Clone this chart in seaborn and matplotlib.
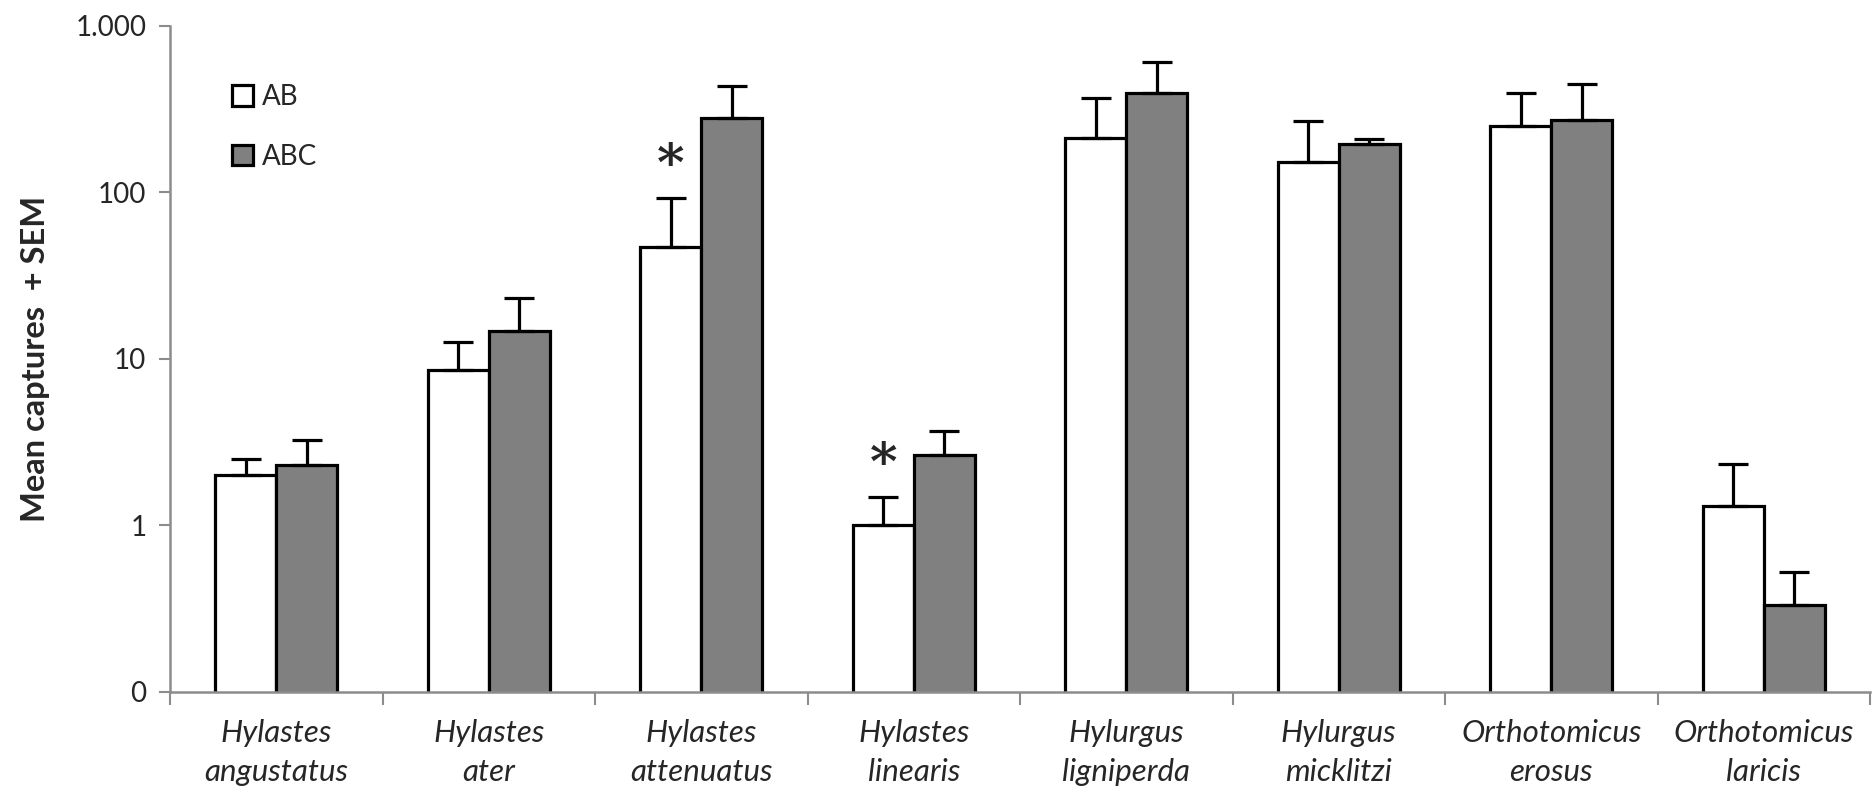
import seaborn as sns
import pandas as pd
import numpy as np
import matplotlib.pyplot as plt
from matplotlib.ticker import FixedLocator, FixedFormatter

species = ["Hylastes\nangustatus", "Hylastes\nater", "Hylastes\nattenuatus", "Hylastes\nlinearis",
           "Hylurgus\nligniperda", "Hylurgus\nmicklitzi", "Orthotomicus\nerosus", "Orthotomicus\nlaricis"]
ab_mean = [2.0, 8.6, 47, 1.0, 213, 153, 250, 1.31]
ab_sem = [0.5, 4.0, 45, 0.48, 158, 115, 147, 1.02]
abc_mean = [2.29, 14.7, 278, 2.65, 397, 196, 273, 0.33]
abc_sem = [0.97, 8.6, 159, 1.01, 212, 14, 176, 0.19]
signif = [False, False, True, True, False, False, False, False]  # AB vs ABC

df = pd.DataFrame({
    "species": species * 2,
    "mean": ab_mean + abc_mean,
    "trap": ["AB"] * len(species) + ["ABC"] * len(species),
})

sns.set_style("white")
plt.rcParams["font.family"] = ["Lato", "DejaVu Sans"]

fig = plt.figure(figsize=(18.72, 7.97), dpi=100)
ax = fig.add_axes([170 / 1872, 1 - 691.5 / 797, 1700 / 1872, 665.5 / 797])
ax.set_yscale("log")

sns.barplot(data=df, x="species", y="mean", hue="trap", palette=["white", "#808080"],
            edgecolor="black", linewidth=2.3, width=0.575, errorbar=None, ax=ax)

# error bars (upper only) drawn on the seaborn bars
grey = "#8c8c8c"
bars = ax.patches[:2 * len(species)]
sems = ab_sem + abc_sem
means = ab_mean + abc_mean
for b, m, s in zip(bars, means, sems):
    xc = b.get_x() + b.get_width() / 2
    ax.errorbar(xc, m, yerr=[[0], [s]], fmt="none", ecolor="black", elinewidth=2.3,
                capsize=11, capthick=2.3, zorder=1)

for i, sig in enumerate(signif):
    if sig:
        b = bars[i]
        xc = b.get_x() + b.get_width() / 2
        ax.text(xc, (ab_mean[i] + ab_sem[i]) * 1.55, "*", ha="center", va="center",
                fontsize=38, fontfamily="DejaVu Serif", fontweight="bold")

ax.set_ylim(0.1, 1000)
ax.yaxis.set_major_locator(FixedLocator([0.1, 1, 10, 100, 1000]))
ax.yaxis.set_major_formatter(FixedFormatter(["0", "1", "10", "100", "1.000"]))
ax.yaxis.set_minor_locator(FixedLocator([]))
ax.tick_params(axis="y", which="major", left=True, length=8, width=1.5, color=grey,
               labelsize=20, pad=9)

ax.set_xlim(-0.5, len(species) - 0.5)
ax.set_xticks(range(len(species)))
ax.set_xticklabels(species, style="italic", fontsize=22.5, linespacing=1.45)
ax.set_xticks(np.arange(-0.5, len(species)), minor=True)
ax.tick_params(axis="x", which="major", length=0, pad=20)
ax.tick_params(axis="x", which="minor", bottom=True, length=9, width=1.5, color=grey)

for side in ["top", "right"]:
    ax.spines[side].set_visible(False)
for side in ["left", "bottom"]:
    ax.spines[side].set_color(grey)
    ax.spines[side].set_linewidth(1.8)

ax.set_xlabel("")
ax.set_ylabel("Mean captures  + SEM", fontweight="bold", fontsize=23.5, labelpad=18)

ax.legend(loc="upper left", bbox_to_anchor=(0.022, 0.95), frameon=False, fontsize=20,
          handlelength=0.75, handleheight=0.75, handletextpad=0.3, labelspacing=1.2)

fig.savefig("out.png", dpi=100)
